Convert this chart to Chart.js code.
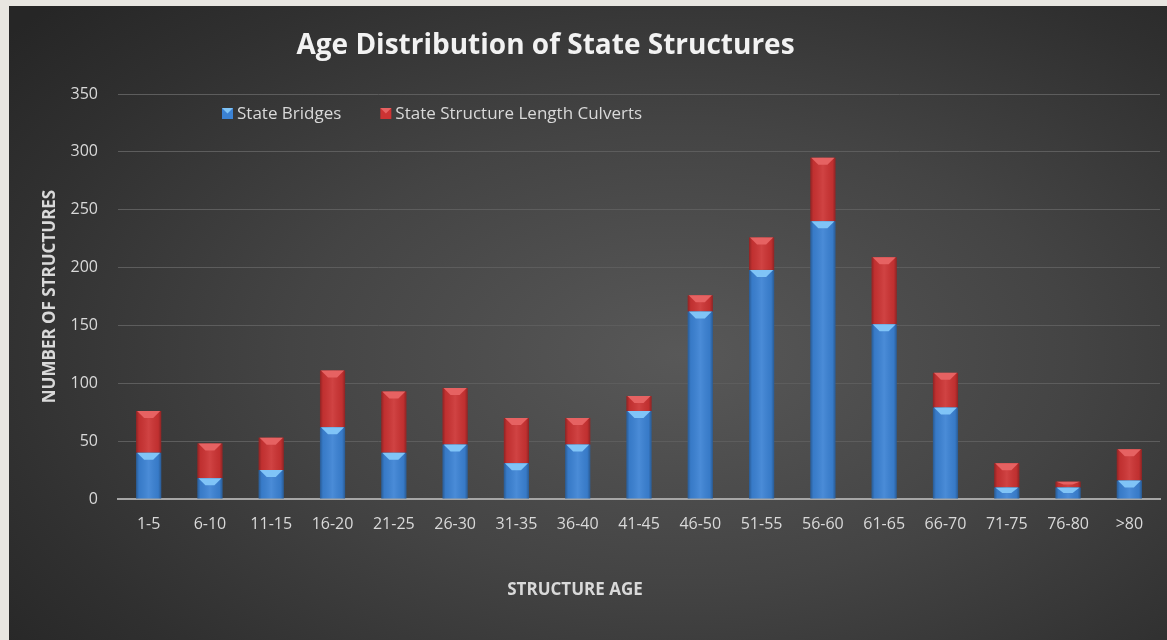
<!DOCTYPE html>
<html>
<head>
<meta charset="utf-8">
<script src="https://cdn.jsdelivr.net/npm/chart.js@4.4.1/dist/chart.umd.min.js"></script>
<style>
  html, body { margin: 0; padding: 0; background: #e8e6e1; }
  #wrap { position: relative; width: 1167px; height: 640px; overflow: hidden; }
  #panel { position: absolute; left: 9px; top: 6px; width: 1158px; height: 634px;
    background: radial-gradient(ellipse 75% 80% at 58% 55%, #585858 0%, #444444 45%, #303030 80%, #262626 100%); }
  #c { position: absolute; left: 0; top: 0; }
</style>
</head>
<body>
<div id="wrap">
  <div id="panel"></div>
  <canvas id="c" width="1167" height="640"></canvas>
</div>
<script>
const categories = ['1-5','6-10','11-15','16-20','21-25','26-30','31-35','36-40','41-45','46-50','51-55','56-60','61-65','66-70','71-75','76-80','>80'];
const stateBridges = [40, 18, 25, 62, 40, 47, 31, 47, 76, 162, 198, 240, 151, 79, 10, 10, 16];
const stateCulverts = [36, 30, 28, 49, 53, 49, 39, 23, 13, 14, 28, 55, 58, 30, 21, 5, 27];
const seriesNames = ['State Bridges', 'State Structure Length Culverts'];
const yTicks = [0, 50, 100, 150, 200, 250, 300, 350];

const FONT = '"Open Sans", "DejaVu Sans", sans-serif';
const bevelColors = ['#80c4f7', '#e66262'];
const baseColors = ['#3b82d4', '#cc3333'];

const barStyle = {
  id: 'barStyle',
  afterDatasetsDraw(chart) {
    const ctx = chart.ctx;
    ctx.save();
    chart.data.datasets.forEach((ds, di) => {
      const meta = chart.getDatasetMeta(di);
      meta.data.forEach(bar => {
        const p = bar.getProps(['x', 'y', 'base', 'width'], true);
        const l = p.x - p.width / 2, r = p.x + p.width / 2;
        const top = Math.min(p.y, p.base), bot = Math.max(p.y, p.base);
        const hgt = bot - top;
        if (hgt <= 0) return;
        const g = ctx.createLinearGradient(l, 0, r, 0);
        g.addColorStop(0, 'rgba(0,0,0,0.30)');
        g.addColorStop(0.12, 'rgba(0,0,0,0.06)');
        g.addColorStop(0.5, 'rgba(255,255,255,0.08)');
        g.addColorStop(0.88, 'rgba(0,0,0,0.06)');
        g.addColorStop(1, 'rgba(0,0,0,0.30)');
        ctx.fillStyle = g;
        ctx.fillRect(l, top, p.width, hgt);
        const h = Math.min(7, hgt / 2);
        ctx.beginPath();
        ctx.moveTo(l + 1, top);
        ctx.lineTo(r - 1, top);
        ctx.lineTo(r - p.width * 0.32, top + h);
        ctx.lineTo(l + p.width * 0.32, top + h);
        ctx.closePath();
        ctx.fillStyle = bevelColors[di];
        ctx.fill();
      });
    });
    ctx.restore();
  }
};

const insideLegend = {
  id: 'insideLegend',
  afterDraw(chart) {
    const ctx = chart.ctx;
    const ca = chart.chartArea;
    let x = ca.left + 104;
    const y = ca.top + 19;
    ctx.save();
    ctx.font = '17px ' + FONT;
    ctx.textBaseline = 'middle';
    chart.data.datasets.forEach((ds, i) => {
      ctx.fillStyle = baseColors[i];
      ctx.fillRect(x, y - 5, 11, 11);
      ctx.beginPath();
      ctx.moveTo(x, y - 5); ctx.lineTo(x + 11, y - 5); ctx.lineTo(x + 5.5, y + 0.5);
      ctx.closePath();
      ctx.fillStyle = bevelColors[i];
      ctx.fill();
      ctx.fillStyle = '#d9d9d9';
      ctx.fillText(ds.label, x + 15, y + 1);
      x += 15 + ctx.measureText(ds.label).width + 39;
    });
    ctx.restore();
  }
};

const shiftTitles = {
  id: 'shiftTitles',
  afterLayout(chart) {
    if (chart.titleBlock) { chart.titleBlock.left = 0; chart.titleBlock.right = 1091; }
    chart.boxes.forEach(b => {
      if (b !== chart.titleBlock && b.options && b.options.text === 'STRUCTURE AGE') {
        b.left = 0; b.right = 1150;
      }
    });
  }
};

new Chart(document.getElementById('c'), {
  type: 'bar',
  data: {
    labels: categories,
    datasets: [
      { label: seriesNames[0], data: stateBridges, backgroundColor: baseColors[0], borderWidth: 0 },
      { label: seriesNames[1], data: stateCulverts, backgroundColor: baseColors[1], borderWidth: 0 }
    ]
  },
  options: {
    responsive: false,
    animation: false,
    devicePixelRatio: 1,
    layout: { padding: { left: 0, right: 7, top: 0, bottom: 0 } },
    datasets: { bar: { barPercentage: 0.41, categoryPercentage: 1.0 } },
    plugins: {
      legend: { display: false },
      tooltip: { enabled: false },
      title: {
        display: true,
        text: 'Age Distribution of State Structures',
        color: '#f2f2f2',
        font: { family: FONT, size: 28, weight: 'bold' },
        padding: { top: 29, bottom: 31.4 }
      },
      subtitle: {
        display: true,
        position: 'bottom',
        text: 'STRUCTURE AGE',
        color: '#d9d9d9',
        font: { family: FONT, size: 17, weight: 'bold' },
        padding: { top: 10, bottom: 40 }
      }
    },
    scales: {
      x: {
        stacked: true,
        grid: { display: false, drawTicks: false },
        border: { display: true, color: '#a6a6a6', width: 2 },
        ticks: { color: '#d9d9d9', font: { family: FONT, size: 16 }, padding: 16, maxRotation: 0, autoSkip: false },
        afterFit(scale) { scale.height = 70.6; }
      },
      y: {
        stacked: true,
        min: 0, max: 350,
        afterBuildTicks(scale) { scale.ticks = yTicks.map(v => ({ value: v })); },
        grid: { color: '#5d5d5d', lineWidth: 1, drawTicks: false },
        border: { display: false },
        ticks: { color: '#d9d9d9', font: { family: FONT, size: 16 }, padding: 20 },
        title: {
          display: true,
          text: 'NUMBER OF STRUCTURES',
          color: '#d9d9d9',
          font: { family: FONT, size: 17, weight: 'bold' },
          padding: { top: 40, bottom: 0 }
        },
        afterFit(scale) { scale.width = 118; }
      }
    }
  },
  plugins: [barStyle, insideLegend, shiftTitles]
});
</script>
</body>
</html>
